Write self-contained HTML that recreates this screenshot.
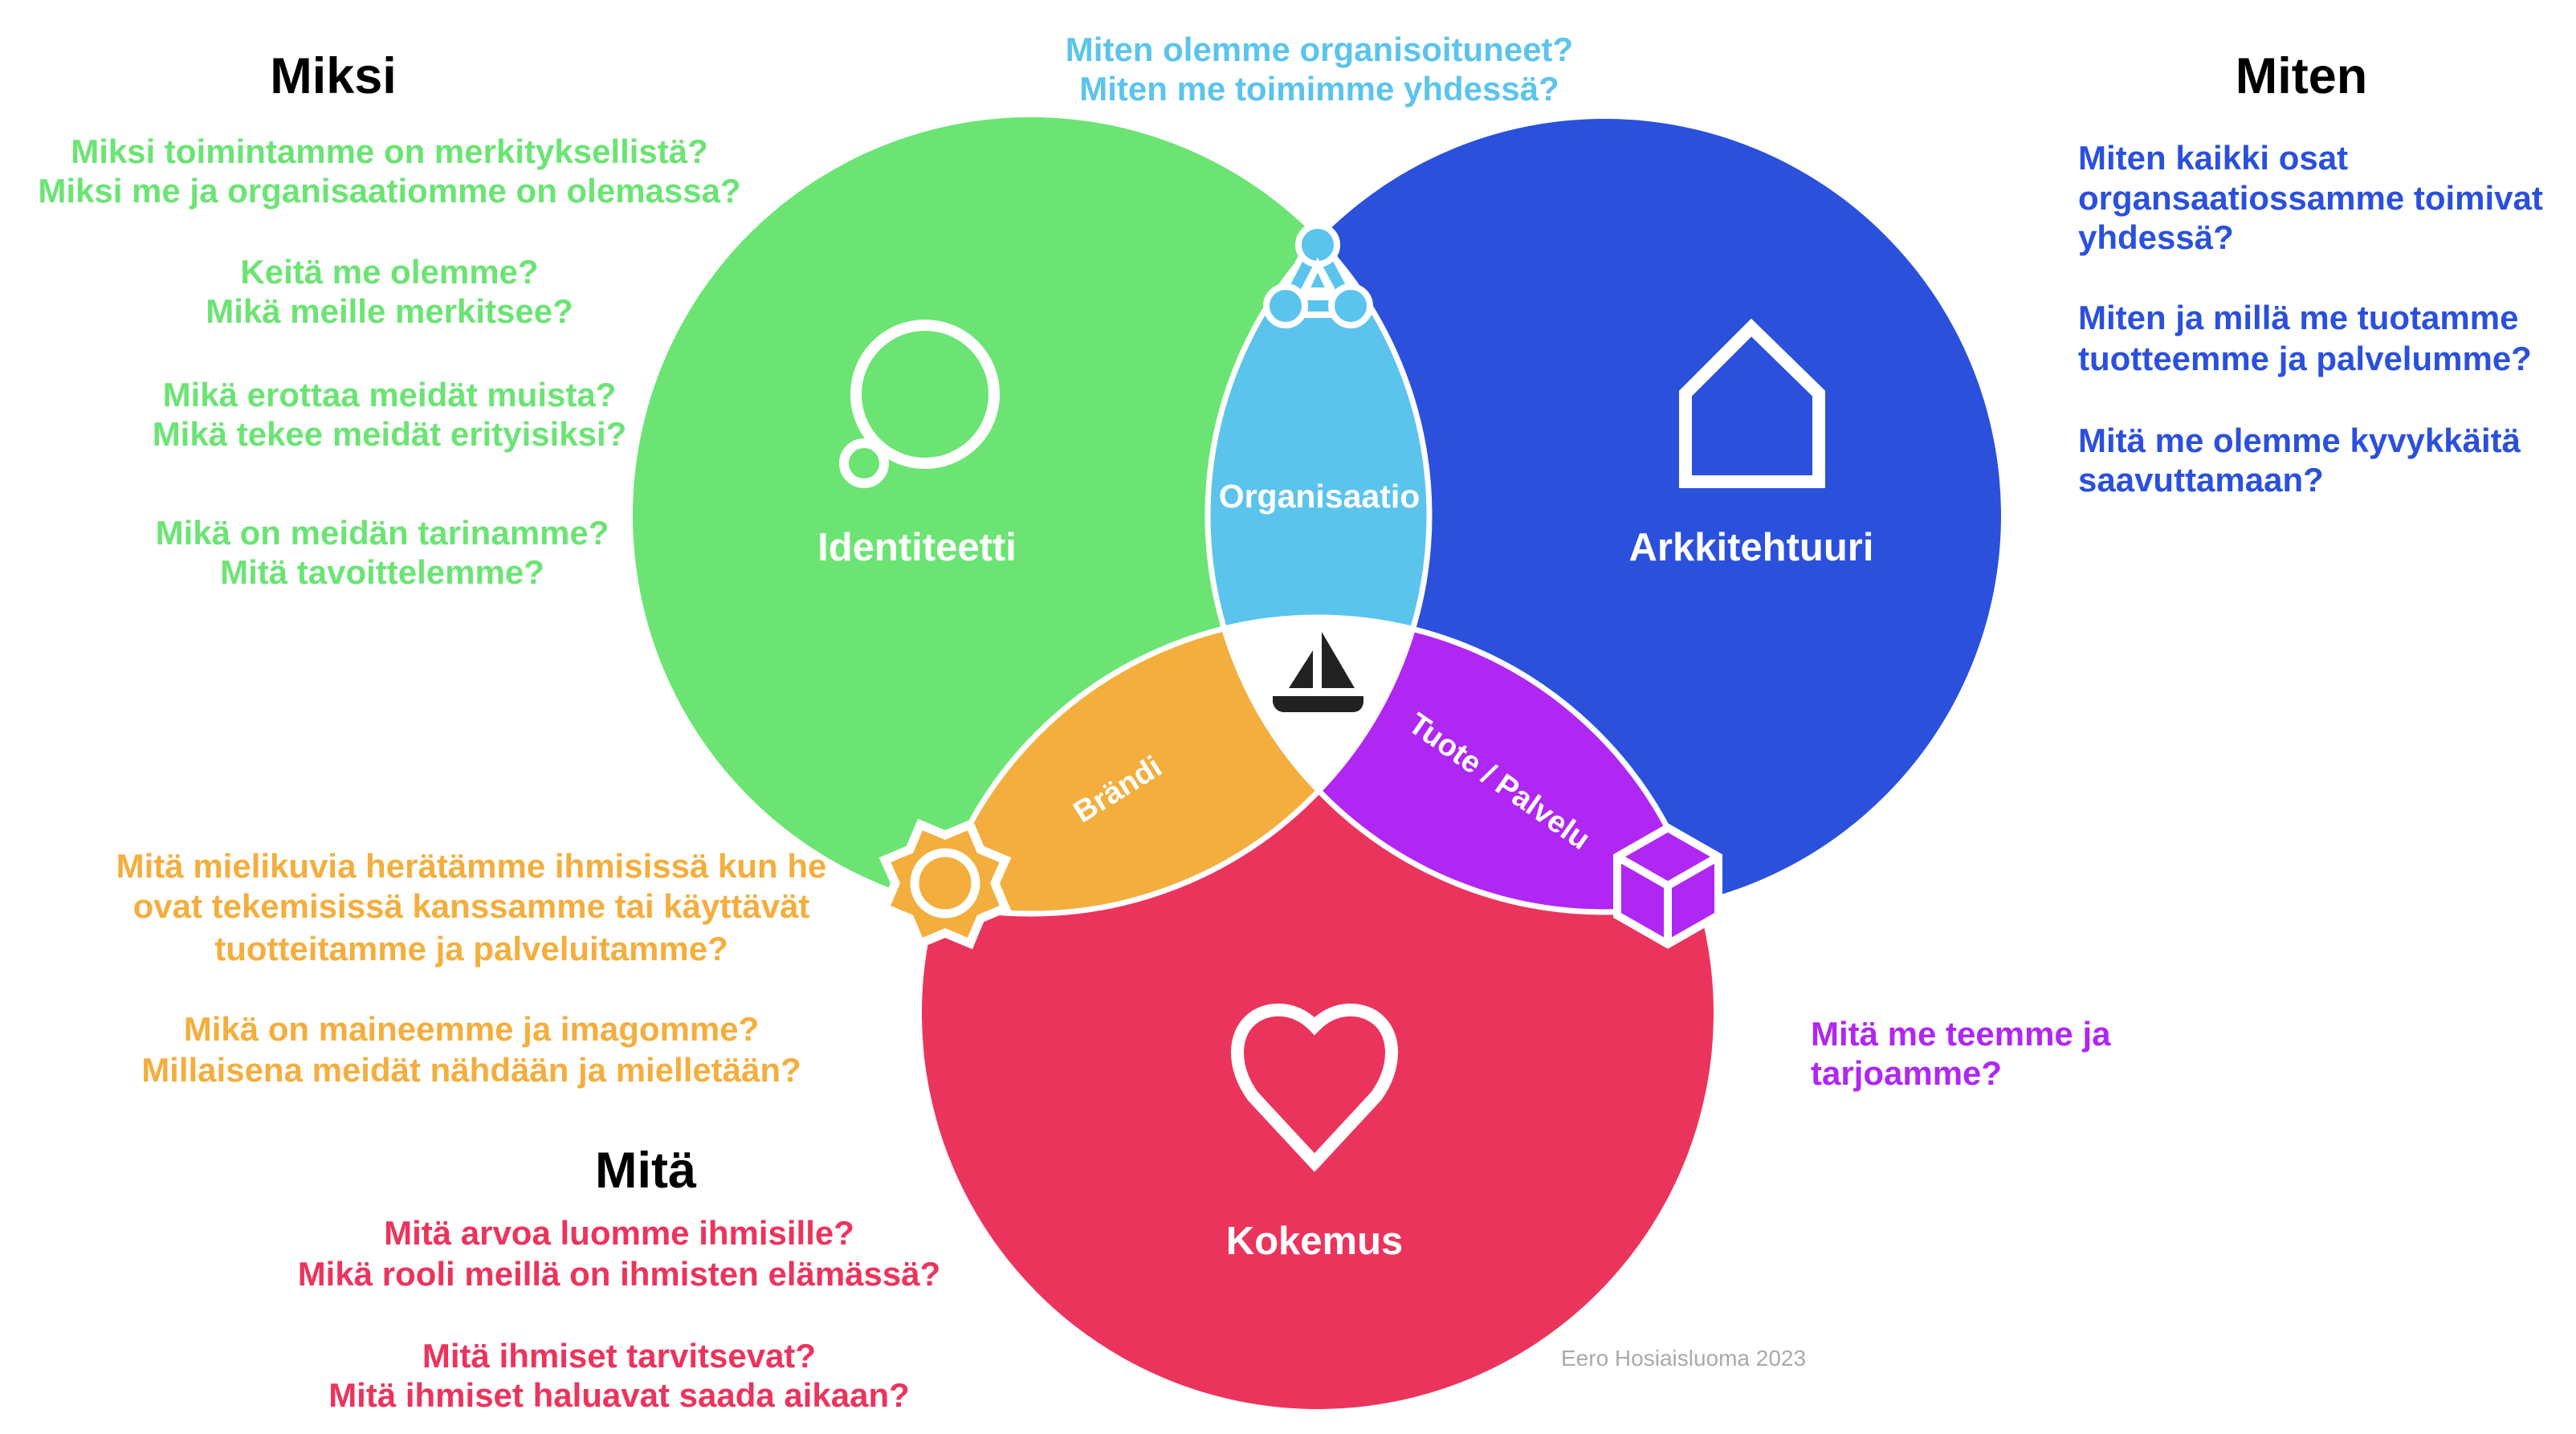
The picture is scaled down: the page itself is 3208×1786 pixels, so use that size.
<!DOCTYPE html>
<html><head><meta charset="utf-8"><style>
html,body{margin:0;padding:0;background:#fff;}
svg{display:block;}
text{font-family:"Liberation Sans",Arial,sans-serif;font-weight:bold;}
</style></head><body>
<svg width="3208" height="1786" viewBox="0 0 3208 1786" xmlns="http://www.w3.org/2000/svg">
<defs>
<clipPath id="cG"><circle cx="1284" cy="642" r="496"/></clipPath>
<clipPath id="cB"><circle cx="1998" cy="642" r="494"/></clipPath>
<clipPath id="cR"><circle cx="1641" cy="1262" r="493"/></clipPath>
<clipPath id="cBR"><circle cx="1998" cy="642" r="494"/><circle cx="1641" cy="1262" r="493"/></clipPath>
<clipPath id="cGR"><circle cx="1284" cy="642" r="496"/><circle cx="1641" cy="1262" r="493"/></clipPath>
<clipPath id="cGB"><circle cx="1284" cy="642" r="496"/><circle cx="1998" cy="642" r="494"/></clipPath>
</defs>
<circle cx="1284" cy="642" r="496" fill="#6be474"/>
<circle cx="1998" cy="642" r="494" fill="#2a50dc"/>
<circle cx="1641" cy="1262" r="493" fill="#eb345c"/>
<g clip-path="url(#cG)"><circle cx="1998" cy="642" r="494" fill="#5bc4ec"/></g>
<g clip-path="url(#cG)"><circle cx="1641" cy="1262" r="493" fill="#f4ae3e"/></g>
<g clip-path="url(#cB)"><circle cx="1641" cy="1262" r="493" fill="#b026f3"/></g>
<g clip-path="url(#cG)"><g clip-path="url(#cB)"><circle cx="1641" cy="1262" r="493" fill="#fff"/></g></g>
<g fill="none" stroke="#fff" stroke-width="7">
<circle cx="1284" cy="642" r="496" clip-path="url(#cBR)"/>
<circle cx="1998" cy="642" r="494" clip-path="url(#cGR)"/>
<circle cx="1641" cy="1262" r="493" clip-path="url(#cGB)"/>
</g>
<circle cx="1152" cy="491" r="86" fill="none" stroke="#fff" stroke-width="14"/>
<circle cx="1076" cy="577" r="25" fill="none" stroke="#fff" stroke-width="12"/>
<polygon points="2099,490 2181,408 2265,490 2265,600 2099,600" fill="none" stroke="#fff" stroke-width="16"/>
<path d="M1637,1278 C1610,1250 1575,1255 1558,1270 C1535,1290 1535,1330 1560,1365 L1637,1448 L1714,1365 C1739,1330 1739,1290 1716,1270 C1699,1255 1664,1250 1637,1278 Z" fill="none" stroke="#fff" stroke-width="16"/>
<polygon points="1605,857 1635,810 1635,857" fill="#222"/>
<polygon points="1646,787 1687,857 1646,857" fill="#222"/>
<path d="M1585,867 L1698,867 L1698,875 Q1696,887 1684,887 L1600,887 Q1588,887 1585,875 Z" fill="#222"/>
<g stroke="#fff" stroke-width="8">
<polygon points="1641,305 1601,381 1682,381" fill="none" stroke-width="30" stroke-linejoin="round"/>
<polygon points="1641,305 1601,381 1682,381" fill="none" stroke="#5bc4ec" stroke-width="14" stroke-linejoin="round"/>
<circle cx="1641" cy="305" r="24" fill="#5bc4ec"/>
<circle cx="1601" cy="381" r="24" fill="#5bc4ec"/>
<circle cx="1682" cy="381" r="24" fill="#5bc4ec"/>
</g>
<polygon points="1641,330 1626,362 1656,362" fill="none" stroke="#fff" stroke-width="8"/>
<polygon fill="#f4ae3e" stroke="#fff" stroke-width="11"
points="1146,1027 1177,1040 1208,1027 1221,1058 1252,1071 1239,1100 1252,1131 1221,1144 1208,1175 1177,1162 1146,1175 1133,1144 1102,1131 1115,1100 1102,1071 1133,1058"/>
<circle cx="1177" cy="1100" r="38" fill="none" stroke="#fff" stroke-width="11"/>
<g fill="#b026f3" stroke="#fff" stroke-width="10">
<polygon points="2077,1031 2140,1067 2140,1140 2077,1176 2014,1140 2014,1067"/>
<polyline points="2014,1067 2077,1103 2140,1067" fill="none"/>
<line x1="2077" y1="1103" x2="2077" y2="1176"/>
</g>
<g fill="#fff" text-anchor="middle" font-size="49">
<text x="1142" y="698">Identiteetti</text>
<text x="2181" y="698">Arkkitehtuuri</text>
<text x="1637" y="1562">Kokemus</text>
<text x="1643" y="632" font-size="41">Organisaatio</text>
<text x="1391" y="996" font-size="38" transform="rotate(-32 1391 982)">Brändi</text>
<text x="1868" y="986" font-size="38" transform="rotate(35 1868 972)">Tuote / Palvelu</text>
</g>
<g fill="#000" text-anchor="middle" font-size="63">
<text x="415" y="116">Miksi</text>
<text x="2866" y="116">Miten</text>
<text x="804" y="1479">Mitä</text>
</g>
<g font-size="42" text-anchor="middle">
<g fill="#6be474">
<text x="485" y="203">Miksi toimintamme on merkityksellistä?</text>
<text x="485" y="252">Miksi me ja organisaatiomme on olemassa?</text>
<text x="485" y="353">Keitä me olemme?</text>
<text x="485" y="402">Mikä meille merkitsee?</text>
<text x="485" y="506">Mikä erottaa meidät muista?</text>
<text x="485" y="555">Mikä tekee meidät erityisiksi?</text>
<text x="476" y="678">Mikä on meidän tarinamme?</text>
<text x="476" y="727">Mitä tavoittelemme?</text>
</g>
<g fill="#5bc4ec">
<text x="1643" y="76">Miten olemme organisoituneet?</text>
<text x="1643" y="125">Miten me toimimme yhdessä?</text>
</g>
<g fill="#f4ae3e">
<text x="587" y="1093">Mitä mielikuvia herätämme ihmisissä kun he</text>
<text x="587" y="1143">ovat tekemisissä kanssamme tai käyttävät</text>
<text x="587" y="1196">tuotteitamme ja palveluitamme?</text>
<text x="587" y="1296">Mikä on maineemme ja imagomme?</text>
<text x="587" y="1347">Millaisena meidät nähdään ja mielletään?</text>
</g>
<g fill="#eb345c">
<text x="771" y="1550">Mitä arvoa luomme ihmisille?</text>
<text x="771" y="1601">Mikä rooli meillä on ihmisten elämässä?</text>
<text x="771" y="1703">Mitä ihmiset tarvitsevat?</text>
<text x="771" y="1752">Mitä ihmiset haluavat saada aikaan?</text>
</g>
</g>
<g font-size="42" text-anchor="start">
<g fill="#2a50dc">
<text x="2588" y="211">Miten kaikki osat</text>
<text x="2588" y="261">organsaatiossamme toimivat</text>
<text x="2588" y="310">yhdessä?</text>
<text x="2588" y="410">Miten ja millä me tuotamme</text>
<text x="2588" y="461">tuotteemme ja palvelumme?</text>
<text x="2588" y="563">Mitä me olemme kyvykkäitä</text>
<text x="2588" y="612">saavuttamaan?</text>
</g>
<g fill="#b026f3">
<text x="2255" y="1302">Mitä me teemme ja</text>
<text x="2255" y="1351">tarjoamme?</text>
</g>
</g>
<text x="1944" y="1701" font-size="28" fill="#aaa" style="font-weight:normal">Eero Hosiaisluoma 2023</text>
</svg>
</body></html>
